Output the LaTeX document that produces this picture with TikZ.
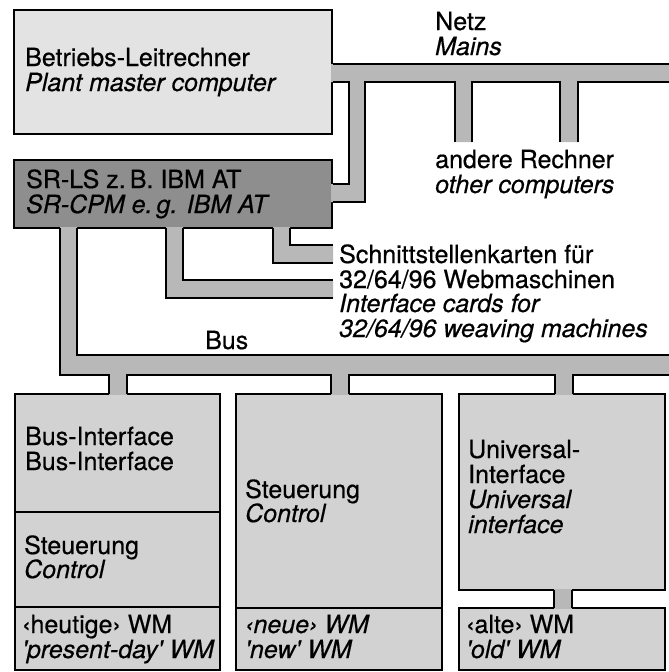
\documentclass[tikz,border=0pt]{standalone}
\usepackage{fontspec}
\setmainfont{TeX Gyre Heros}[FakeBold=0.5]
\definecolor{topfill}{HTML}{E3E3E3}
\definecolor{srfill}{HTML}{8E8E8E}
\definecolor{pipefill}{HTML}{B8B8B8}
\definecolor{boxfill}{HTML}{D2D2D2}
\tikzset{
  box/.style={draw=black, line width=1.8pt, inner sep=0pt, minimum width=#1},
  lbl/.style={anchor=base west, inner sep=0pt, font=\fontsize{25}{25}\selectfont},
  lbli/.style={anchor=base west, inner sep=0pt, font=\fontsize{25}{25}\selectfont\itshape},
  pipeline/.style={draw=black, line width=1.8pt},
}
\begin{document}
\begin{tikzpicture}[x=1pt,y=-1pt]
\useasboundingbox[fill=white] (0,0) rectangle (669,672);
% boxes
\node[box=318pt, minimum height=124pt, fill=topfill] (plc) at (173,72) {};
\node[box=318pt, minimum height=68pt, fill=srfill] (sr) at (173,194) {};
\node[box=205pt, minimum height=276pt, fill=boxfill] (b1) at (117.5,532) {};
\node[box=206pt, minimum height=276pt, fill=boxfill] (b2) at (339,532) {};
\node[box=206pt, minimum height=196pt, fill=boxfill] (b3a) at (562,492) {};
\node[box=206pt, minimum height=62pt, fill=boxfill] (b3b) at (562,639) {};
\draw[pipeline] (b1.west |- 0,512) -- (b1.east |- 0,512);
\draw[pipeline] (b1.west |- 0,607) -- (b1.east |- 0,607);
\draw[pipeline] (b2.west |- 0,608) -- (b2.east |- 0,608);
% mains network
\fill[pipefill] (331.1,64) -- (672,64) -- (672,82) -- (578,82) -- (578,142) -- (560,142) -- (560,82) -- (472,82) -- (472,142) -- (455,142) -- (455,82) -- (365,82) -- (365,202) -- (331.1,202) -- (331.1,184) -- (349,184) -- (349,82) -- (331.1,82) -- cycle;
\draw[pipeline] (plc.east |- 0,64) -- (672,64);
\draw[pipeline] (plc.east |- 0,82) -- (349,82) -- (349,184) -- (sr.east |- 0,184);
\draw[pipeline] (sr.east |- 0,202) -- (365,202) -- (365,82) -- (455,82) -- (455,142);
\draw[pipeline] (472,142) -- (472,82) -- (560,82) -- (560,142);
\draw[pipeline] (578,142) -- (578,82) -- (672,82);
% interface card pipes
\coordinate (cardend) at (333,0);
\fill[pipefill] (273,227.1) -- (290,227.1) -- (290,245) -- (333,245) -- (333,263) -- (273,263) -- cycle;
\draw[pipeline] (273,228) -- (273,263) -- (cardend |- 0,263);
\draw[pipeline] (290,228) -- (290,245) -- (cardend |- 0,245);
\fill[pipefill] (166,227.1) -- (183,227.1) -- (183,280) -- (333,280) -- (333,298) -- (166,298) -- cycle;
\draw[pipeline] (166,228) -- (166,298) -- (cardend |- 0,298);
\draw[pipeline] (183,228) -- (183,280) -- (cardend |- 0,280);
% bus
\fill[pipefill] (60,227.1) -- (77,227.1) -- (77,355) -- (672,355) -- (672,375) -- (573,375) -- (573,394.9) -- (555,394.9) -- (555,375) -- (349,375) -- (349,394.9) -- (331,394.9) -- (331,375) -- (127,375) -- (127,394.9) -- (109,394.9) -- (109,375) -- (60,375) -- cycle;
\draw[pipeline] (77,228) -- (77,355) -- (672,355);
\draw[pipeline] (60,228) -- (60,375) -- (109,375) -- (109,394);
\draw[pipeline] (127,394) -- (127,375) -- (331,375) -- (331,394);
\draw[pipeline] (349,394) -- (349,375) -- (555,375) -- (555,394);
\draw[pipeline] (573,394) -- (573,375) -- (672,375);
% stub between universal interface and old WM
\fill[pipefill] (554,589.1) -- (572,589.1) -- (572,608.9) -- (554,608.9) -- cycle;
\draw[pipeline] (554,590) -- (554,608);
\draw[pipeline] (572,590) -- (572,608);
% texts
\node[lbl] (t1) at (25,66) {Betriebs-Leitrechner};
\node[lbli] (t2) at (25,91) {Plant master computer};
\node[lbl] (t3) at (435,30) {Netz};
\node[lbli] (t4) at (435,55) {Mains};
\node[lbl] (t5) at (435,168) {andere Rechner};
\node[lbli] (t6) at (435,193) {other computers};
\node[lbl] (t7) at (26,188) {SR-LS z.\,B. IBM AT};
\node[lbli] (t8) at (26,213) {SR-CPM e.\,g. IBM AT};
\node[lbl] (t9) at (339,263) {Schnittstellenkarten für};
\node[lbl] (t10) at (339,288) {32/64/96 Webmaschinen};
\node[lbli] (t11) at (339,312) {Interface cards for};
\node[lbli] (t12) at (339,337) {32/64/96 weaving machines};
\node[lbl] (t13) at (205,349) {Bus};
\node[lbl] (t14) at (25,445) {Bus-Interface};
\node[lbl] (t15) at (25,470) {Bus-Interface};
\node[lbl] (t16) at (24,554) {Steuerung};
\node[lbli] (t17) at (24,578) {Control};
\node[lbl] (t18) at (22,633) {‹heutige› WM};
\node[lbli] (t19) at (22,658) {\textquotesingle present-day\textquotesingle\ WM};
\node[lbl] (t20) at (245,498) {Steuerung};
\node[lbli] (t21) at (245,522) {Control};
\node[lbli] (t22) at (245,633) {‹neue› WM};
\node[lbli] (t23) at (245,658) {\textquotesingle new\textquotesingle\ WM};
\node[lbl] (t24) at (468,458) {Universal-};
\node[lbl] (t25) at (468,483) {Interface};
\node[lbli] (t26) at (468,508) {Universal};
\node[lbli] (t27) at (468,533) {interface};
\node[lbl] (t28) at (466,633) {‹alte› WM};
\node[lbli] (t29) at (466,658) {\textquotesingle old\textquotesingle\ WM};
\end{tikzpicture}
\end{document}
